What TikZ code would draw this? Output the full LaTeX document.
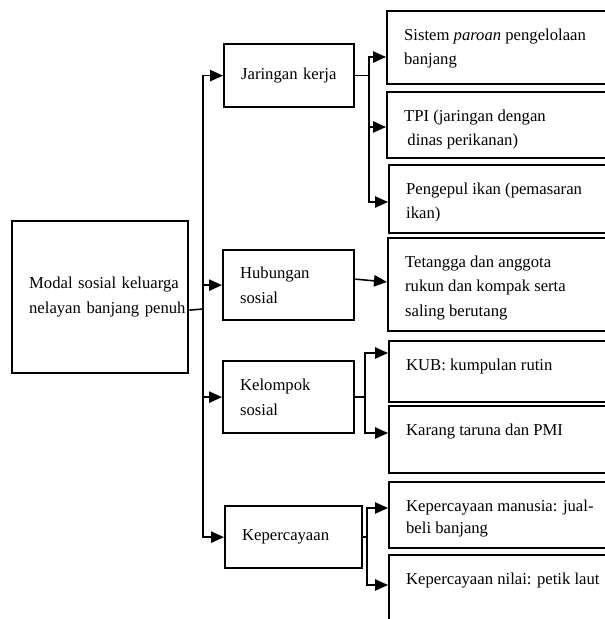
\documentclass[tikz,border=0pt]{standalone}
\usepackage{fontspec}
\setmainfont{Liberation Serif}
\usetikzlibrary{arrows.meta,calc}

% right-hand boxes: text hangs from the top edge of a fixed-height box
\newcommand\toptext[2]{\parbox[c][#1][t]{180pt}{\rule{0pt}{21.75pt}#2}}

\tikzset{
  boxline/.style={draw=black, line width=1.7pt},
  mainbox/.style={boxline, anchor=north west, align=left, inner xsep=12.75pt,
    text width=106.5pt, minimum width=132pt, minimum height=114pt},
  midbox/.style={boxline, anchor=north west, align=left, inner xsep=12.75pt},
  itembox/.style={boxline, anchor=north west, align=left, inner xsep=12.75pt, inner ysep=0pt},
  conn/.style={line width=1.15pt},
  arr/.style={conn, -{Triangle[length=9.75pt,width=8.5pt]}}
}

\begin{document}
\begin{tikzpicture}[x=0.75pt, y=-0.75pt, font=\fontsize{12.5}{18.5}\selectfont]
  \useasboundingbox (0,0) rectangle (605,619);
  \fill[white] (0,0) rectangle (605,619);
  \clip (0,0) rectangle (605,619);

  % root
  \node[mainbox] (main) at (11,220)
    {\mbox{Modal sosial keluarga}\\\mbox{nelayan banjang penuh}};

  % categories
  \node[midbox, text width=72pt, minimum width=97.5pt, minimum height=47.25pt]
    (jk) at (223,43) {Jaringan kerja};
  \node[midbox, text width=72.75pt, minimum width=98.25pt, minimum height=52.5pt]
    (hub) at (222,249) {Hubungan\\sosial};
  \node[midbox, text width=72.75pt, minimum width=98.25pt, minimum height=54pt]
    (kel) at (222,360) {Kelompok\\sosial};
  \node[midbox, text width=77.25pt, minimum width=102.75pt, minimum height=46.5pt]
    (kep) at (224,505) {Kepercayaan};

  % items
  \node[itembox] (b1) at (386,10)  {\toptext{54.75pt}{Sistem \textit{paroan} pengelolaan\\banjang}};
  \node[itembox] (b2) at (386,91)  {\toptext{49.5pt}{TPI (jaringan dengan\\\hspace*{2.5pt}dinas perikanan)}};
  \node[itembox] (b3) at (388,164) {\toptext{51pt}{Pengepul ikan (pemasaran\\ikan)}};
  \node[itembox] (b4) at (387,237) {\toptext{69.75pt}{Tetangga dan anggota\\rukun dan kompak serta\\saling berutang}};
  \node[itembox] (b5) at (388,340) {\toptext{45.75pt}{KUB: kumpulan rutin}};
  \node[itembox] (b6) at (388,405) {\toptext{50.25pt}{Karang taruna dan PMI}};
  \node[itembox] (b7) at (388,481) {\toptext{49.5pt}{Kepercayaan manusia: jual-\\[-2pt]beli banjang}};
  \node[itembox] (b8) at (388,554) {\toptext{75pt}{Kepercayaan nilai: petik laut}};

  % trunk from the root to the four categories
  \coordinate (tr) at (203,309);
  \draw[conn] ([yshift=-9.75pt]main.east) -- (tr);
  \draw[arr] (tr) |- (jk.west);
  \draw[arr] (tr) |- (hub.west);
  \draw[arr] (tr) |- (kel.west);
  \draw[arr] (tr) |- (kep.west);

  % entry points on the item boxes
  \coordinate (b1in) at ($(b1.north west)+(0,47)$);
  \coordinate (b2in) at ($(b2.north west)+(0,36)$);
  \coordinate (b3in) at ($(b3.north west)+(0,38)$);
  \coordinate (b4in) at ($(b4.north west)+(0,45)$);
  \coordinate (b5in) at ($(b5.north west)+(0,13)$);
  \coordinate (b6in) at ($(b6.north west)+(0,28)$);
  \coordinate (b7in) at ($(b7.north west)+(0,27)$);
  \coordinate (b8in) at ($(b8.north west)+(0,31)$);

  % branch columns
  \coordinate (jx) at (369,0);
  \coordinate (kx) at (365,0);
  \coordinate (px) at (367,0);

  % Jaringan kerja
  \draw[conn] (jk.east) -- (jk.east -| jx);
  \draw[arr] (jk.east -| jx) |- (b1in);
  \draw[arr] (jk.east -| jx) |- (b2in);
  \draw[arr] (jk.east -| jx) |- (b3in);

  % Hubungan sosial
  \draw[arr] ([yshift=4.5pt]hub.east) -- (b4in);

  % Kelompok sosial
  \draw[conn] (kel.east) -- (kel.east -| kx);
  \draw[arr] (kel.east -| kx) |- (b5in);
  \draw[arr] (kel.east -| kx) |- (b6in);

  % Kepercayaan
  \draw[conn] (kep.east) -- (kep.east -| px);
  \draw[arr] (kep.east -| px) |- (b7in);
  \draw[arr] (kep.east -| px) |- (b8in);
\end{tikzpicture}
\end{document}
